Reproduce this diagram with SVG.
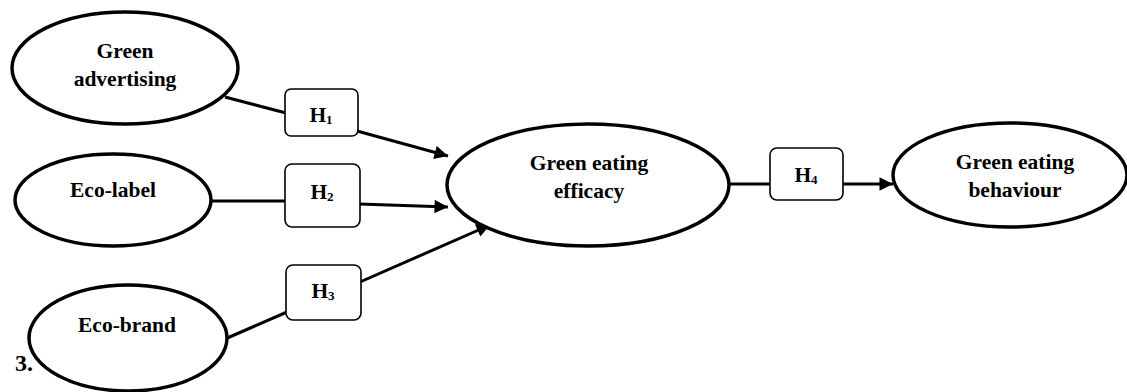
<svg xmlns="http://www.w3.org/2000/svg" width="1127" height="392" viewBox="0 0 1127 392">
<style>
.node ellipse{fill:#fff;stroke:#000;stroke-width:3.5}
.hyp rect{fill:#fff;stroke:#000;stroke-width:1.6}
text{font-family:"Liberation Serif","DejaVu Serif",serif;font-weight:bold;font-size:21.5px;fill:#000;text-anchor:middle}
.sub{font-size:13px}
#connectors line{stroke:#000;stroke-width:3;fill:none}
</style>
<defs>
<marker id="arr" viewBox="0 0 10 10" refX="10" refY="5" markerWidth="5.5" markerHeight="4.5" orient="auto" markerUnits="strokeWidth">
<path d="M0,0 L10,5 L0,10 z" fill="#000"/>
</marker>
</defs>
<rect width="1127" height="392" fill="#fff"/>
<g id="connectors">
<line x1="225" y1="97" x2="286" y2="113"/>
<line x1="357" y1="131" x2="448" y2="156" marker-end="url(#arr)"/>
<line x1="211" y1="201" x2="286" y2="201"/>
<line x1="359" y1="204" x2="448" y2="207" marker-end="url(#arr)"/>
<line x1="225" y1="339" x2="287" y2="312"/>
<line x1="360" y1="282" x2="490" y2="225" marker-end="url(#arr)"/>
<line x1="729" y1="184" x2="771" y2="184"/>
<line x1="842" y1="184" x2="893" y2="184" marker-end="url(#arr)"/>
</g>
<g id="green-advertising" class="node">
<ellipse cx="125" cy="68" rx="113" ry="56"/>
<text x="125" y="58">Green</text>
<text x="125" y="86">advertising</text>
</g>
<g id="eco-label" class="node">
<ellipse cx="113" cy="200" rx="98" ry="46"/>
<text x="113" y="197">Eco-label</text>
</g>
<g id="eco-brand" class="node">
<ellipse cx="128" cy="338" rx="99" ry="53"/>
<text x="127" y="332">Eco-brand</text>
</g>
<g id="green-eating-efficacy" class="node">
<ellipse cx="588" cy="185" rx="141" ry="61"/>
<text x="589" y="170">Green eating</text>
<text x="589" y="198">efficacy</text>
</g>
<g id="green-eating-behaviour" class="node">
<ellipse cx="1010" cy="175" rx="117" ry="52"/>
<text x="1015" y="169">Green eating</text>
<text x="1015" y="197">behaviour</text>
</g>
<g id="h1" class="hyp">
<rect x="285" y="89" width="73" height="47" rx="6"/>
<text x="321" y="122">H<tspan class="sub" dy="2">1</tspan></text>
</g>
<g id="h2" class="hyp">
<rect x="285" y="164" width="75" height="63" rx="7"/>
<text x="322" y="199">H<tspan class="sub" dy="2">2</tspan></text>
</g>
<g id="h3" class="hyp">
<rect x="286" y="265" width="75" height="55" rx="7"/>
<text x="323" y="298">H<tspan class="sub" dy="2">3</tspan></text>
</g>
<g id="h4" class="hyp">
<rect x="770" y="148" width="73" height="52" rx="7"/>
<text x="806" y="182">H<tspan class="sub" dy="2">4</tspan></text>
</g>
<text x="15" y="371" style="text-anchor:start;font-size:24px">3.</text>
</svg>
